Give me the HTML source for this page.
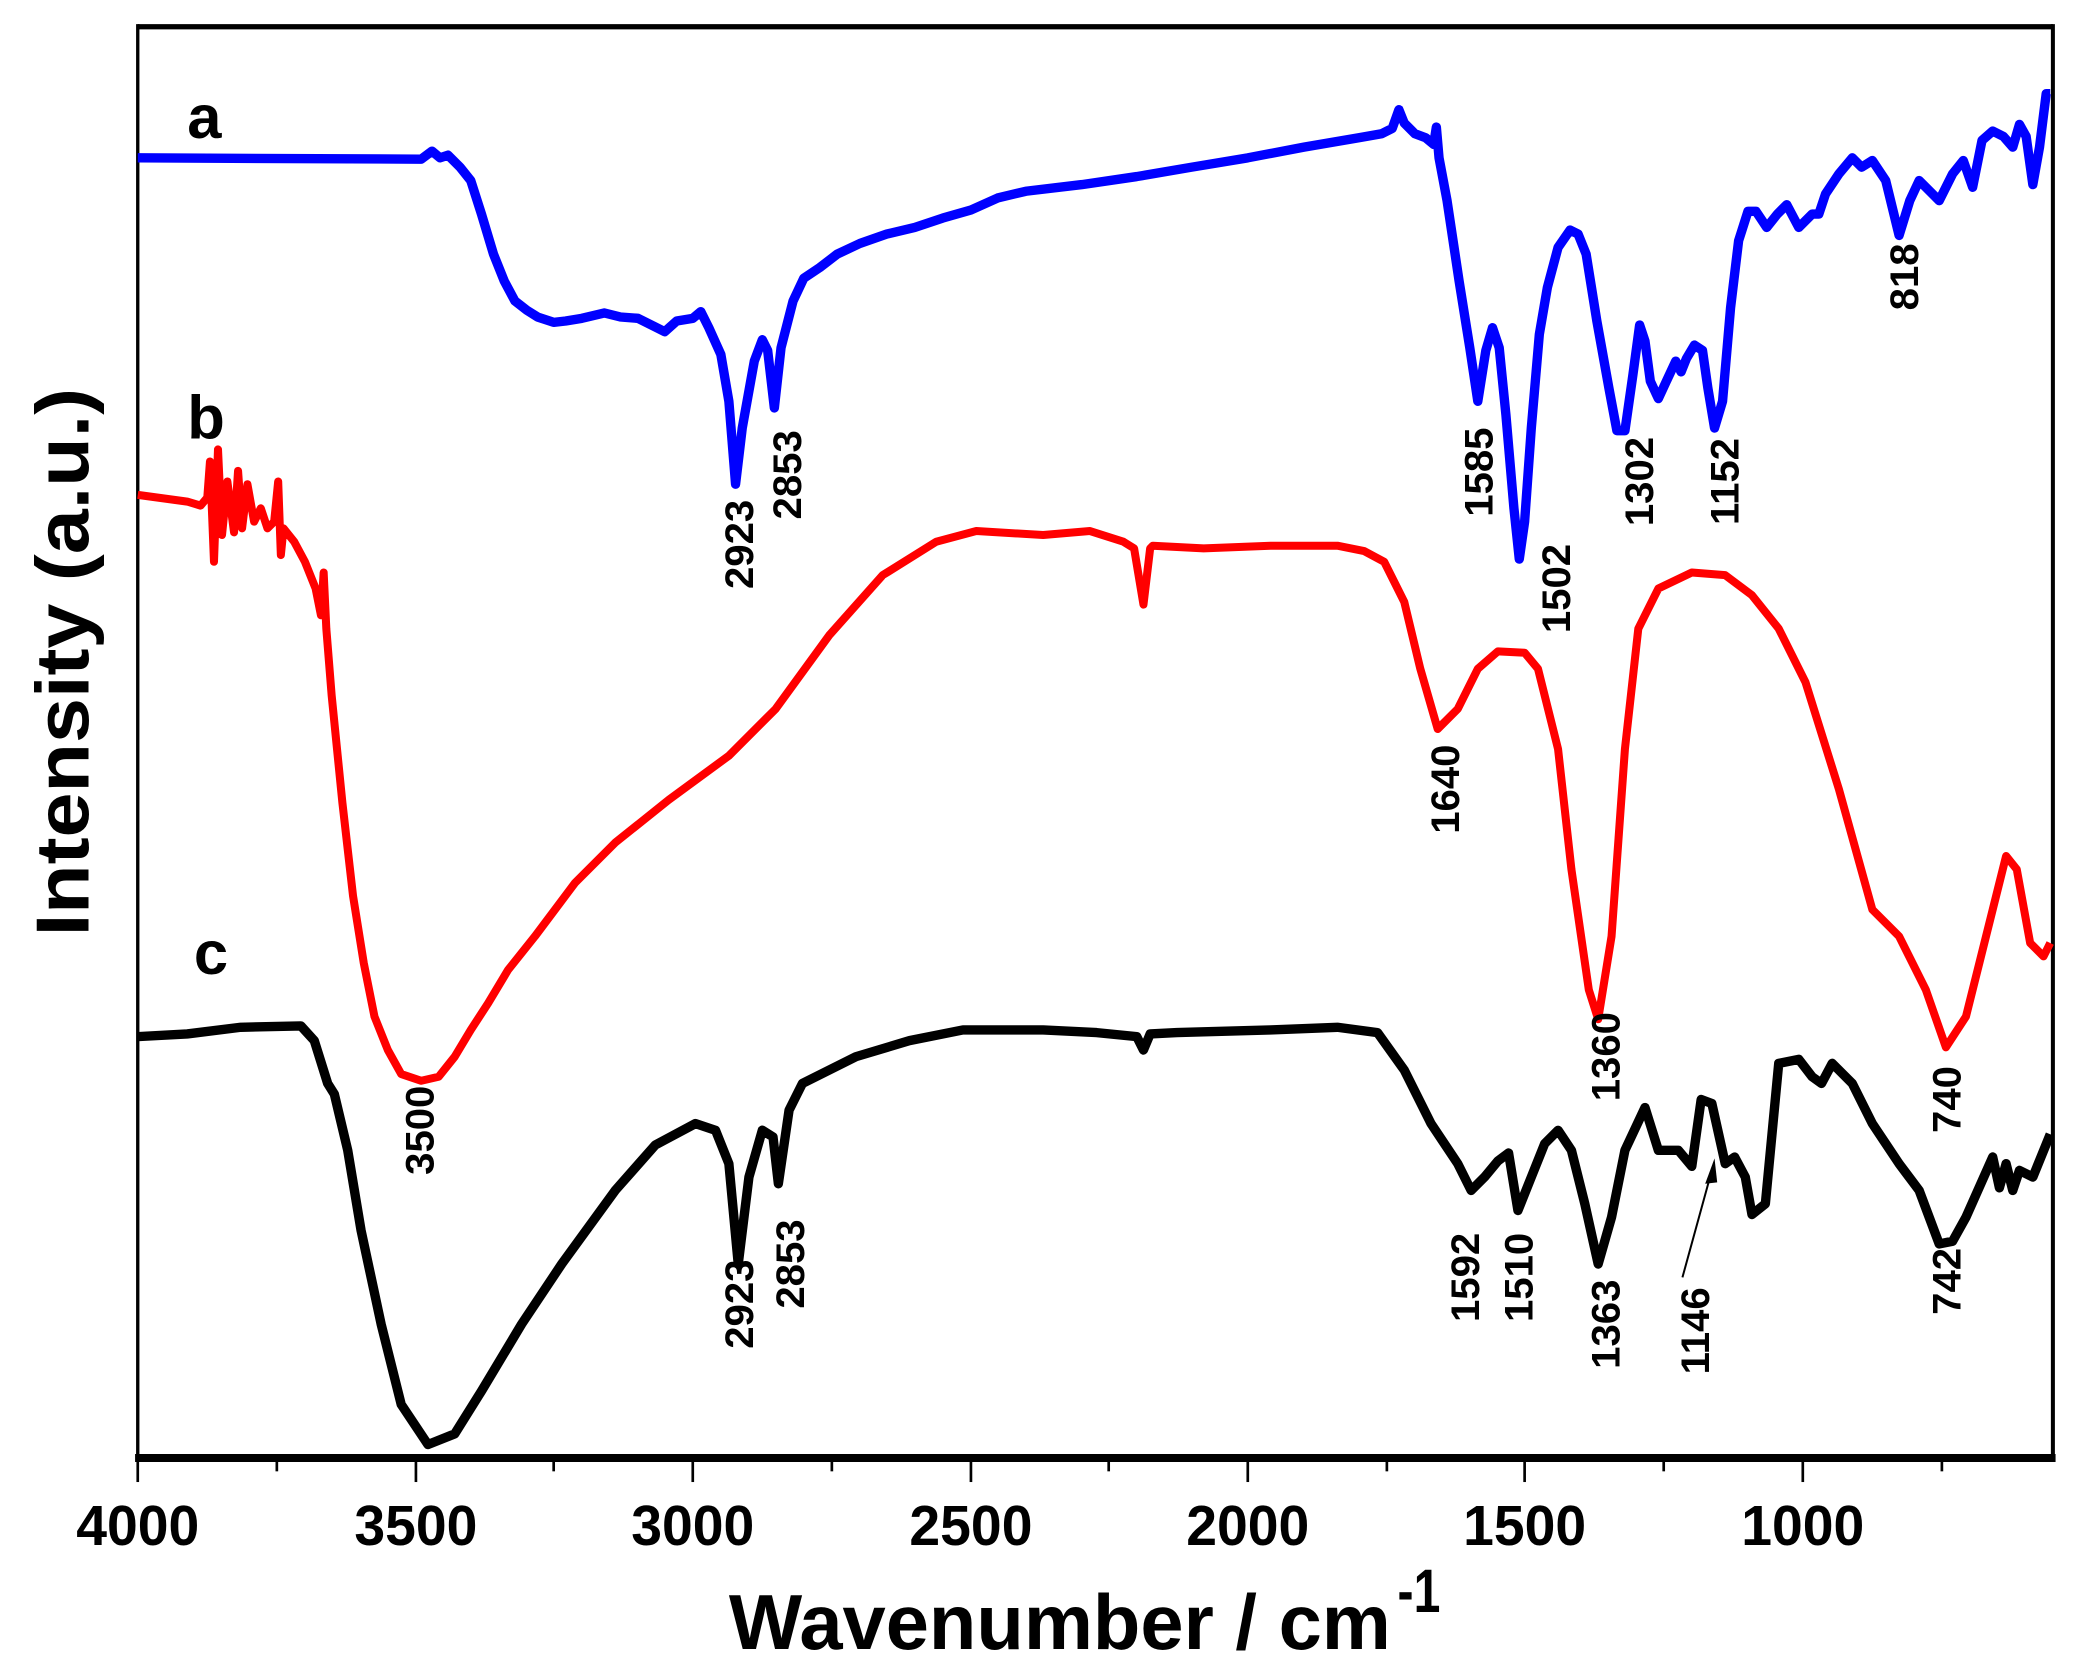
<!DOCTYPE html>
<html><head><meta charset="utf-8"><style>
html,body{margin:0;padding:0;background:#fff;}
svg{display:block;}
text{font-family:"Liberation Sans",Arial,sans-serif;font-weight:bold;}
</style></head><body>
<svg width="2089" height="1680" viewBox="0 0 1562 1256" preserveAspectRatio="none" xmlns="http://www.w3.org/2000/svg">
<rect width="1562" height="1256" fill="#fff"/>
<!-- frame -->
<line x1="103" y1="20" x2="1535" y2="20" stroke="#000" stroke-width="4"/>
<line x1="103" y1="18" x2="103" y2="1090" stroke="#000" stroke-width="2.5"/>
<line x1="1535" y1="18" x2="1535" y2="1090" stroke="#000" stroke-width="3"/>
<line x1="101" y1="1090" x2="1537" y2="1090" stroke="#000" stroke-width="6"/>
<g stroke="#000" stroke-width="2">
<line x1="103" y1="1090" x2="103" y2="1108"/><line x1="207" y1="1090" x2="207" y2="1100"/>
<line x1="311" y1="1090" x2="311" y2="1108"/><line x1="414" y1="1090" x2="414" y2="1100"/>
<line x1="518" y1="1090" x2="518" y2="1108"/><line x1="622" y1="1090" x2="622" y2="1100"/>
<line x1="726" y1="1090" x2="726" y2="1108"/><line x1="829" y1="1090" x2="829" y2="1100"/>
<line x1="933" y1="1090" x2="933" y2="1108"/><line x1="1037" y1="1090" x2="1037" y2="1100"/>
<line x1="1140" y1="1090" x2="1140" y2="1108"/><line x1="1244" y1="1090" x2="1244" y2="1100"/>
<line x1="1348" y1="1090" x2="1348" y2="1108"/><line x1="1452" y1="1090" x2="1452" y2="1100"/>
</g>
<g font-size="42" text-anchor="middle">
<text x="103" y="1155" textLength="92" lengthAdjust="spacingAndGlyphs">4000</text>
<text x="311" y="1155" textLength="92" lengthAdjust="spacingAndGlyphs">3500</text>
<text x="518" y="1155" textLength="92" lengthAdjust="spacingAndGlyphs">3000</text>
<text x="726" y="1155" textLength="92" lengthAdjust="spacingAndGlyphs">2500</text>
<text x="933" y="1155" textLength="92" lengthAdjust="spacingAndGlyphs">2000</text>
<text x="1140" y="1155" textLength="92" lengthAdjust="spacingAndGlyphs">1500</text>
<text x="1348" y="1155" textLength="92" lengthAdjust="spacingAndGlyphs">1000</text>
</g>
<text x="545" y="1233" font-size="58" textLength="495" lengthAdjust="spacingAndGlyphs">Wavenumber / cm</text>
<text x="1045" y="1205" font-size="46" textLength="32" lengthAdjust="spacingAndGlyphs">-1</text>
<text transform="translate(66,495) rotate(-90)" font-size="56" text-anchor="middle" textLength="410" lengthAdjust="spacingAndGlyphs">Intensity (a.u.)</text>
<g font-size="46"><text x="140" y="103">a</text><text x="140" y="328">b</text><text x="145" y="728">c</text></g>
<!-- curves -->
<polyline fill="none" stroke="#0000ff" stroke-width="7" stroke-linejoin="round" points="103,118 315,119 323,113 329,118 335,116 344,125 352,135 360,160 369,190 377,210 385,225 394,232 402,237 414,241 423,240 435,238 452,234 464,237 477,238 489,244 497,248 506,240 518,238 524,233 530,245 539,265 545,300 550,362 555,320 564,270 570,254 574,262 579,305 584,260 593,225 601,208 613,200 626,190 643,182 663,175 684,170 705,163 726,157 746,148 767,143 809,138 850,132 891,125 933,118 975,110 1016,103 1033,100 1041,96 1046,82 1050,92 1058,100 1066,103 1072,108 1074,95 1076,118 1082,150 1091,210 1099,260 1105,300 1111,262 1116,245 1121,260 1126,310 1132,380 1136,418 1140,390 1145,320 1151,250 1157,215 1165,185 1174,172 1180,175 1186,190 1194,240 1203,290 1209,322 1215,322 1221,280 1226,243 1230,255 1234,285 1240,298 1246,285 1253,270 1257,278 1261,268 1267,258 1273,262 1277,290 1282,320 1288,300 1294,230 1300,180 1307,158 1313,158 1321,170 1329,160 1336,153 1345,170 1355,160 1360,160 1365,145 1375,130 1385,118 1392,125 1400,120 1410,135 1420,176 1428,150 1435,135 1445,145 1450,150 1460,130 1468,120 1475,140 1482,105 1490,98 1498,102 1505,110 1510,93 1515,102 1520,138 1525,110 1530,70 1533,70"/>
<polyline fill="none" stroke="#ff0000" stroke-width="6" stroke-linejoin="round" points="103,370 140,375 150,378 155,372 157,345 160,420 163,336 166,400 170,360 175,398 178,352 181,395 185,362 190,390 195,380 200,395 205,390 208,360 210,415 212,395 220,405 228,420 232,430 236,440 240,460 242,428 244,470 248,520 256,600 264,670 272,720 280,760 290,785 300,803 315,808 328,805 340,790 352,770 365,750 380,725 400,700 430,660 460,630 500,598 545,565 580,530 620,475 660,430 700,405 730,397 780,400 815,397 840,405 848,410 855,452 860,410 862,408 900,410 950,408 1000,408 1020,412 1035,420 1050,450 1062,500 1075,545 1090,530 1105,500 1120,487 1140,488 1150,500 1165,560 1175,650 1188,740 1195,762 1205,700 1215,560 1225,470 1240,440 1265,428 1290,430 1310,445 1330,470 1350,510 1375,590 1400,680 1420,700 1440,740 1455,783 1470,760 1490,680 1500,640 1508,650 1518,705 1528,715 1533,705"/>
<polyline fill="none" stroke="#000" stroke-width="7" stroke-linejoin="round" points="103,775 140,773 180,768 225,767 235,778 245,810 250,818 260,860 270,920 285,990 300,1050 320,1080 340,1072 360,1040 390,990 420,945 460,890 490,856 520,840 535,845 545,870 552,945 560,880 570,845 578,850 582,885 590,830 600,810 640,790 680,778 720,770 780,770 820,772 850,775 855,785 860,773 880,772 950,770 1000,768 1030,772 1050,800 1070,840 1090,870 1100,890 1110,880 1120,868 1128,862 1135,905 1145,880 1155,855 1165,845 1175,860 1185,900 1195,945 1205,910 1215,860 1230,828 1240,860 1255,860 1265,872 1272,822 1280,825 1290,870 1297,865 1305,880 1310,908 1320,900 1330,795 1345,792 1355,805 1362,810 1370,795 1385,810 1400,840 1420,870 1435,890 1450,930 1460,928 1470,910 1490,865 1495,888 1500,870 1505,890 1510,875 1520,880 1533,848"/>
<!-- arrow -->
<line x1="1258" y1="955" x2="1280" y2="875" stroke="#000" stroke-width="1.5"/>
<polygon points="1282,866 1275,885 1284,884" fill="#000"/>
<!-- annotations -->
<g font-size="30" text-anchor="middle">
<text transform="translate(563,407) rotate(-90)">2923</text>
<text transform="translate(599,355) rotate(-90)">2853</text>
<text transform="translate(1116,353) rotate(-90)">1585</text>
<text transform="translate(1174,440) rotate(-90)">1502</text>
<text transform="translate(1236,360) rotate(-90)">1302</text>
<text transform="translate(1300,360) rotate(-90)">1152</text>
<text transform="translate(1434,207) rotate(-90)">818</text>
<text transform="translate(1091,590) rotate(-90)">1640</text>
<text transform="translate(324,845) rotate(-90)">3500</text>
<text transform="translate(1211,790) rotate(-90)">1360</text>
<text transform="translate(1466,822) rotate(-90)">740</text>
<text transform="translate(563,975) rotate(-90)">2923</text>
<text transform="translate(601,945) rotate(-90)">2853</text>
<text transform="translate(1106,955) rotate(-90)">1592</text>
<text transform="translate(1146,955) rotate(-90)">1510</text>
<text transform="translate(1211,990) rotate(-90)">1363</text>
<text transform="translate(1278,995) rotate(-90)">1146</text>
<text transform="translate(1466,958) rotate(-90)">742</text>
</g>
</svg>
</body></html>
